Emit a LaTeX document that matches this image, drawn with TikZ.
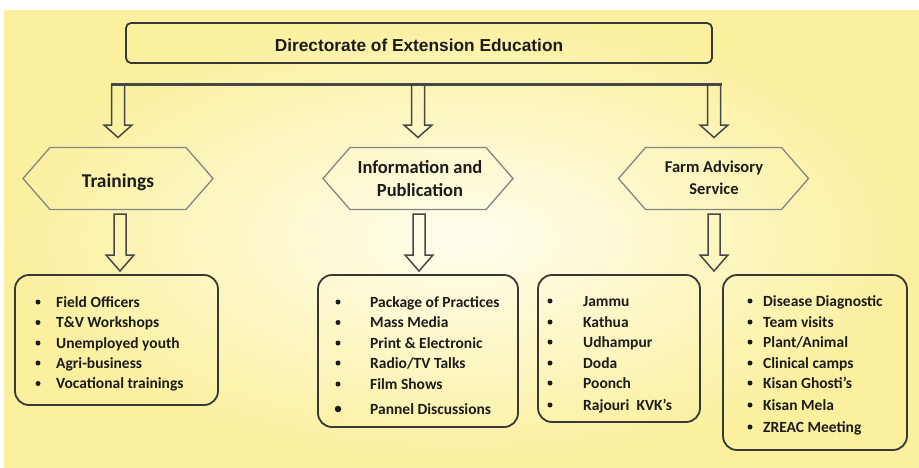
\documentclass[tikz,border=0pt]{standalone}
\usepackage{fontspec}
\setmainfont{Carlito}
\newfontfamily\arialf{Liberation Sans}
\definecolor{bgout}{RGB}{251,240,158}
\definecolor{bgin}{RGB}{255,254,238}
\definecolor{ink}{RGB}{28,28,28}
\begin{document}
\begin{tikzpicture}[x=1pt,y=-1pt,
  boxline/.style={draw=black!78, line width=1.8pt},
  topbox/.style={boxline, rounded corners=5pt, minimum width=586pt, minimum height=40pt, inner sep=0pt, outer sep=0pt},
  listbox/.style={boxline, rounded corners=14pt, inner sep=0pt, outer sep=0pt, anchor=north west},
  hexline/.style={draw=black!48, line width=1.3pt, line join=miter},
  hextext/.style={align=center, inner sep=0pt, text=ink, font=\bfseries\fontsize{19.5}{23}\selectfont},
  blockarrow/.style={draw=black!72, line width=1.5pt, line join=miter},
  itm/.style={anchor=base west, inner sep=0pt, text=ink, font=\bfseries\fontsize{15.5}{18}\selectfont},
  bul/.style={circle, fill=ink, inner sep=0pt, minimum size=5pt}
]
\useasboundingbox (0,0) rectangle (919,467);
\fill[white] (0,0) rectangle (919,467);
\shade[inner color=bgin, outer color=bgout] (4,10) rectangle (919,467);

% top box
\node[topbox] (dee) at (419,43) {};
\node[inner sep=0pt, text=ink, font=\arialf\bfseries\fontsize{17.3}{20}\selectfont] (deet) at (419,45) {Directorate of Extension Education};

% bar and top arrows
\draw[draw=black!72, line width=3pt] (111,84.5) -- (722,84.5);
\foreach \xx in {118,418,714}{
  \draw[blockarrow] (\xx-6.5,85) -- (\xx-6.5,125) -- (\xx-14,125) -- (\xx,137.5) -- (\xx+14,125) -- (\xx+6.5,125) -- (\xx+6.5,85);
}

% hexagons
\node[hextext] (trn) at (118,182) {Trainings};
\draw[hexline] (118,178.5) ++(-95,0) -- ++(27,-31) -- ++(136,0) -- ++(27,31) -- ++(-27,31) -- ++(-136,0) -- cycle;
\node[hextext, font=\bfseries\fontsize{18.5}{23}\selectfont] (inf) at (420,179) {Information and\\Publication};
\draw[hexline] (418,178.5) ++(-95,0) -- ++(27,-31) -- ++(136,0) -- ++(27,31) -- ++(-27,31) -- ++(-136,0) -- cycle;
\node[hextext, font=\bfseries\fontsize{16.5}{22}\selectfont] (fas) at (714,178) {Farm Advisory\\Service};
\draw[hexline] (713.5,178.5) ++(-95,0) -- ++(27,-31) -- ++(136,0) -- ++(27,31) -- ++(-27,31) -- ++(-136,0) -- cycle;

% lower arrows
\foreach \xx in {120,419,714}{
  \draw[blockarrow] (\xx-6,214) -- (\xx-6,255) -- (\xx-14,255) -- (\xx,271) -- (\xx+14,255) -- (\xx+6,255) -- (\xx+6,214) -- cycle;
}

% list boxes
\node[listbox, minimum width=203pt, minimum height=130pt] (b1) at (15,275) {};
\node[listbox, minimum width=200pt, minimum height=152pt] (b2) at (318,275) {};
\node[listbox, minimum width=162pt, minimum height=147pt] (b3) at (538,275) {};
\node[listbox, minimum width=184pt, minimum height=175pt] (b4) at (723,275) {};

\foreach \yy/\t [count=\i] in {307/{Field Officers}, 327.5/{T\&V Workshops}, 348/{Unemployed youth}, 368/{Agri-business}, 388.5/{Vocational trainings}}{
  \node[bul] (p1-\i) at (38,\yy-5) {};
  \node[itm] (t1-\i) at (56,\yy) {\t};
}
\foreach \yy/\t [count=\i] in {307/{Package of Practices}, 327.5/{Mass Media}, 348/{Print \& Electronic}, 368/{Radio/TV Talks}, 389/{Film Shows}}{
  \node[bul] (p2-\i) at (338,\yy-5) {};
  \node[itm] (t2-\i) at (370,\yy) {\t};
}
\node[bul, minimum size=6.5pt] (p2-6) at (338,409) {};
\node[itm] (t2-6) at (370,414) {Pannel Discussions};
\foreach \yy/\t [count=\i] in {306/{Jammu}, 327/{Kathua}, 347/{Udhampur}, 368/{Doda}, 388/{Poonch}, 410/{Rajouri\ \ KVK’s}}{
  \node[bul] (p3-\i) at (550,\yy-5) {};
  \node[itm] (t3-\i) at (583,\yy) {\t};
}
\foreach \yy/\t [count=\i] in {306/{Disease Diagnostic}, 327/{Team visits}, 347/{Plant/Animal}, 368/{Clinical camps}, 388/{Kisan Ghosti’s}, 410/{Kisan Mela}, 432/{ZREAC Meeting}}{
  \node[bul] (p4-\i) at (750,\yy-5) {};
  \node[itm] (t4-\i) at (763,\yy) {\t};
}
\end{tikzpicture}
\end{document}
